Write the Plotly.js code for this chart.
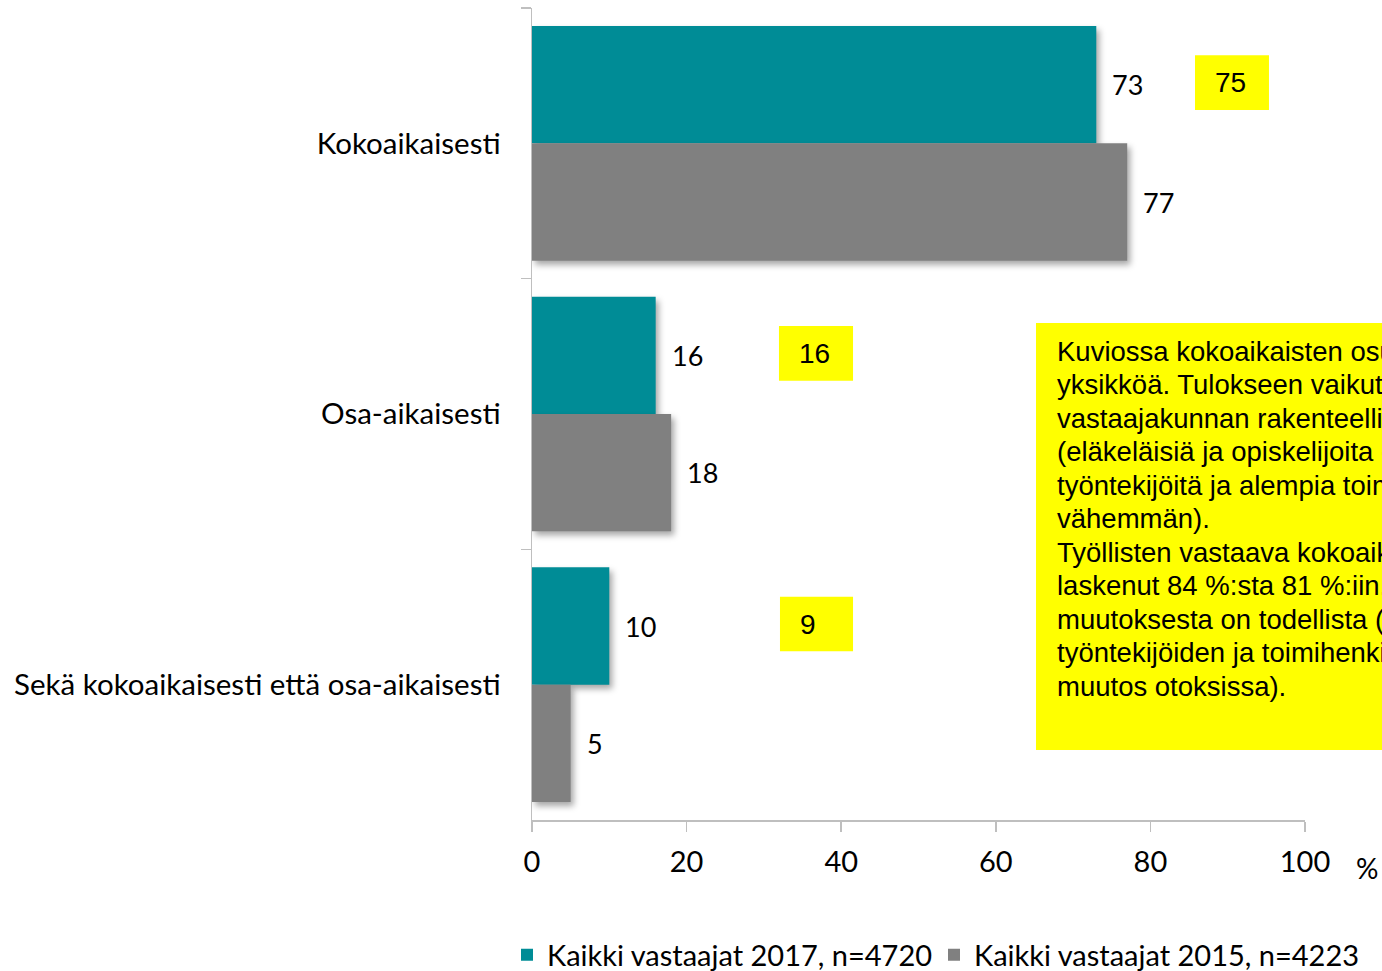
<!DOCTYPE html>
<html>
<head>
<meta charset="utf-8">
<script src="https://cdn.plot.ly/plotly-3.0.1.min.js"></script>
<style>
html,body{margin:0;padding:0;background:#fff;}
#chart{width:1382px;height:971px;}
#chart .barlayer .point path{filter:drop-shadow(3px 4px 3px rgba(0,0,0,0.35));}
</style>
</head>
<body>
<div id="chart"></div>
<script>
// ---- data ----
var categories = ["Kokoaikaisesti", "Osa-aikaisesti", "Sekä kokoaikaisesti että osa-aikaisesti"];
var values2017 = [73, 16, 10];
var values2015 = [77, 18, 5];
var highlightValues = ["75", "16", "9"];
var seriesNames = ["Kaikki vastaajat 2017, n=4720", "Kaikki vastaajat 2015, n=4223"];
var xTickValues = [0, 20, 40, 60, 80, 100];
var noteLines = [
  "Kuviossa kokoaikaisten osuus on laskenut kaksi prosentti-",
  "yksikköä. Tulokseen vaikuttaa vastaajakunnan",
  "vastaajakunnan rakenteellinen muutos",
  "(eläkeläisiä ja opiskelijoita enemmän,",
  "työntekijöitä ja alempia toimihenkilöitä",
  "vähemmän).",
  "Työllisten vastaava kokoaikaisten osuus on",
  "laskenut 84 %:sta 81 %:iin. Osa",
  "muutoksesta on todellista (osa",
  "työntekijöiden ja toimihenkilöiden",
  "muutos otoksissa)."
];

// ---- layout helpers (pixel -> paper) ----
var W = 1382, H = 971;
var L = 532, R = 1305, T = 8, B = 820;
function px(x) { return (x - L) / (R - L); }
function py(y) { return (B - y) / (B - T); }

var teal = "#008C96", gray = "#808080";
var axisColor = "#BFBFBF";
var calibriLike = "Lato, 'Open Sans', sans-serif";
var arialLike = "'Liberation Sans', Arial, sans-serif";

var traces = [
  {type: "bar", orientation: "h", name: seriesNames[0], y: categories, x: values2017,
   marker: {color: teal}, hoverinfo: "x", legend: "legend"},
  {type: "bar", orientation: "h", name: seriesNames[1], y: categories, x: values2015,
   marker: {color: gray}, hoverinfo: "x", legend: "legend2"}
];

var annotations = [];
var shapes = [];
var barHalf = (1 - 0.133) / 4; // offset of each bar center within group
var series = [values2017, values2015];
for (var s = 0; s < 2; s++) {
  for (var i = 0; i < categories.length; i++) {
    annotations.push({
      x: series[s][i], y: i + (s === 0 ? -barHalf : barHalf), xref: "x", yref: "y",
      text: String(series[s][i]), showarrow: false, xanchor: "left", yanchor: "middle",
      xshift: 14, font: {family: calibriLike, size: 27, color: "#000"}
    });
  }
}
// yellow highlight boxes
var boxX = [[85.77, 95.34], [31.95, 41.53], [32.08, 41.53]];
for (var i = 0; i < highlightValues.length; i++) {
  shapes.push({type: "rect", xref: "x", yref: "y", x0: boxX[i][0], x1: boxX[i][1],
    y0: i - 0.325, y1: i - 0.123, fillcolor: "#FFFF00", line: {width: 0}, layer: "above"});
  annotations.push({
    x: boxX[i][0], y: i - 0.224, xref: "x", yref: "y", text: highlightValues[i],
    showarrow: false, xanchor: "left", yanchor: "middle", xshift: 18,
    font: {family: arialLike, size: 28, color: "#000"}
  });
}
// note box
shapes.push({type: "rect", xref: "paper", yref: "paper", x0: px(1036), x1: px(1500),
  y0: py(750), y1: py(323), fillcolor: "#FFFF00", line: {width: 0}, layer: "above"});
for (var i = 0; i < noteLines.length; i++) {
  annotations.push({
    x: px(1055), y: py(351 + 33.55 * i), xref: "paper", yref: "paper",
    text: noteLines[i], showarrow: false, xanchor: "left", yanchor: "middle", align: "left",
    font: {family: arialLike, size: 27.5, color: "#000"}
  });
}
// % unit
annotations.push({x: px(1367), y: py(868), xref: "paper", yref: "paper", text: "%",
  showarrow: false, xanchor: "center", yanchor: "middle",
  font: {family: calibriLike, size: 28, color: "#000"}});

function legendAt(xPix) {
  return {orientation: "h", xref: "container", yref: "container",
    x: xPix / W, xanchor: "left", y: 1 - 955 / H, yanchor: "middle",
    font: {family: calibriLike, size: 29, color: "#000"}, itemclick: false};
}

var layout = {
  width: W, height: H,
  margin: {l: L, r: W - R, t: T, b: H - B, pad: 0},
  paper_bgcolor: "#fff", plot_bgcolor: "#fff",
  barmode: "group", bargap: 0.133, bargroupgap: 0,
  showlegend: true,
  legend: legendAt(507),
  legend2: legendAt(934),
  xaxis: {range: [0, 100], tickvals: xTickValues, ticktext: xTickValues.map(String),
    showgrid: false, zeroline: false, showline: true, linecolor: axisColor, linewidth: 1.5,
    ticks: "outside", ticklen: 10, tickcolor: axisColor, tickwidth: 1.5, ticklabelstandoff: 6,
    tickfont: {family: calibriLike, size: 29, color: "#000"},
    fixedrange: true},
  yaxis: {type: "category", range: [2.5, -0.5], showgrid: false, zeroline: false,
    showline: true, linecolor: axisColor, linewidth: 1.5,
    ticks: "outside", tickson: "boundaries", ticklen: 10, tickcolor: axisColor, tickwidth: 1.5,
    ticklabelstandoff: 24,
    tickfont: {family: calibriLike, size: 29.5, color: "#000"},
    fixedrange: true},
  shapes: shapes,
  annotations: annotations
};

Plotly.newPlot("chart", traces, layout, {displayModeBar: false, staticPlot: true});
</script>
</body>
</html>
